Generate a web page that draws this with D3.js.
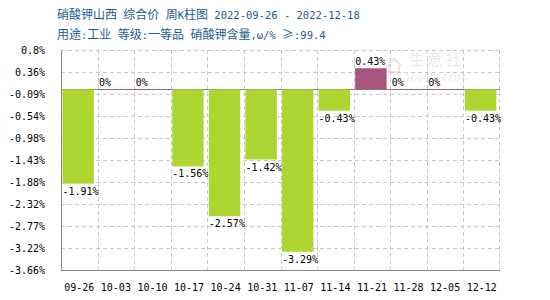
<!DOCTYPE html>
<html>
<head>
<meta charset="utf-8">
<script src="https://cdn.jsdelivr.net/npm/d3@7"></script>
<style>
  body { margin: 0; background: #fff; }
  svg { display: block; }
</style>
</head>
<body>
<div id="chart"></div>
<script>
// week labels and weekly change (%)
var weeks = ["09-26","10-03","10-10","10-17","10-24","10-31","11-07","11-14","11-21","11-28","12-05","12-12"];
var changes = [-1.91, 0, 0, -1.56, -2.57, -1.42, -3.29, -0.43, 0.43, 0, 0, -0.43];
var yTicks = [0.8, 0.36, -0.09, -0.54, -0.98, -1.43, -1.88, -2.32, -2.77, -3.22, -3.66];
var titleLines = ["硝酸钾山西 综合价 周K柱图 2022-09-26 - 2022-12-18",
                  "用途:工业 等级:一等品 硝酸钾含量,ω/% ≥:99.4"];

var margin = {top: 50, right: 50, bottom: 30, left: 61},
    width = 550 - margin.left - margin.right,
    height = 300 - margin.top - margin.bottom;

var svg = d3.select("#chart").append("svg")
    .attr("width", 550)
    .attr("height", 300);

// titles: CJK runs in a CJK font, latin runs in a narrow mono font
var cjk = /[\u3000-\u9fff\uff00-\uffef\u2265]/;
function runs(s) {
  var out = [], cur = "", curC = null;
  for (var ch of s) {
    var c = cjk.test(ch);
    if (curC !== null && c !== curC) { out.push({t: cur, c: curC}); cur = ""; }
    cur += ch; curC = c;
  }
  if (cur) out.push({t: cur, c: curC});
  return out;
}
titleLines.forEach(function(line, i) {
  var t = svg.append("text")
      .attr("x", 57)
      .attr("y", 19 + i * 20)
      .attr("fill", "#1d5b8f")
      .attr("xml:space", "preserve")
      .style("white-space", "pre");
  t.selectAll("tspan").data(runs(line)).enter().append("tspan")
      .style("font-family", function(d) { return d.c ? "'Noto Sans CJK SC', sans-serif" : "'DejaVu Sans Mono', monospace"; })
      .style("font-size", function(d) { return d.c ? "12px" : "10.5px"; })
      .text(function(d) { return d.t; });
});

var g = svg.append("g")
    .attr("transform", "translate(" + margin.left + "," + margin.top + ")");

var xGrid = d3.scaleBand().domain(weeks).range([0, width]);
var barOff = xGrid.bandwidth() * 0.04, barW = xGrid.bandwidth() * 0.86;
var y = d3.scaleLinear().domain([-3.66, 0.8]).range([height, 0]);

// watermark
var wm = g.append("g").attr("opacity", 0.9);
wm.append("path")
    .attr("d", "M326,16 L333,9 L340,16 M328,15 L328,22 L338,22 L338,15")
    .attr("fill", "none").attr("stroke", "#f4dede").attr("stroke-width", 2);
wm.append("text").attr("x", 374).attr("y", 15).attr("text-anchor", "middle")
    .attr("fill", "#f4e2e2").style("font-size", "15px").style("font-family", "'Noto Sans CJK SC'")
    .text("生 意 社");
wm.append("text").attr("x", 374).attr("y", 32).attr("text-anchor", "middle")
    .attr("fill", "#ececec").style("font-size", "10px").style("font-family", "'DejaVu Sans'")
    .text("100PPI.COM");

// horizontal grid
g.selectAll(".hgrid").data(yTicks).enter().append("line")
    .attr("x1", 0).attr("x2", width)
    .attr("y1", function(d) { return Math.round(y(d)) + 0.5; })
    .attr("y2", function(d) { return Math.round(y(d)) + 0.5; })
    .attr("stroke", "#c8c8c8").attr("stroke-dasharray", "4,3");

// vertical grid at band edges
g.selectAll(".vgrid").data(weeks.slice(1).concat(["end"])).enter().append("line")
    .attr("x1", function(d) { return d === "end" ? width - 0.5 : Math.round(xGrid(d)) + 0.5; })
    .attr("x2", function(d) { return d === "end" ? width - 0.5 : Math.round(xGrid(d)) + 0.5; })
    .attr("y1", 0).attr("y2", height)
    .attr("stroke", "#c8c8c8").attr("stroke-dasharray", "4,3");

// axes lines
g.append("line").attr("x1", 0.5).attr("x2", 0.5).attr("y1", 0).attr("y2", height)
    .attr("stroke", "#888");
g.append("line").attr("x1", 0).attr("x2", width).attr("y1", height + 0.5).attr("y2", height + 0.5)
    .attr("stroke", "#888");
g.append("line").attr("x1", 0).attr("x2", width)
    .attr("y1", Math.round(y(0)) + 0.5).attr("y2", Math.round(y(0)) + 0.5)
    .attr("stroke", "#888");

// bars
g.selectAll(".bar").data(changes).enter().append("rect")
    .attr("x", function(d, i) { return d === 0 ? xGrid(weeks[i]) : xGrid(weeks[i]) + barOff; })
    .attr("width", function(d) { return d === 0 ? xGrid.bandwidth() : barW; })
    .attr("y", function(d) { return d === 0 ? Math.round(y(0)) : y(Math.max(d, 0)); })
    .attr("height", function(d) { return d === 0 ? 1 : Math.abs(y(d) - y(0)); })
    .attr("fill", function(d) { return d >= 0 ? "#a8567f" : "#add633"; });

// value labels, left aligned at bar start
g.selectAll(".val").data(changes).enter().append("text")
    .attr("x", function(d, i) { return xGrid(weeks[i]) + barOff; })
    .attr("y", function(d) { return d < 0 ? y(d) + 11 : y(d) - 3; })
    .style("font-family", "'DejaVu Sans Mono', monospace")
    .style("font-size", "10px")
    .attr("fill", "#000")
    .text(function(d) { return d + "%"; });

// y tick labels
g.selectAll(".ylab").data(yTicks).enter().append("text")
    .attr("x", -16)
    .attr("y", function(d) { return y(d) + 4; })
    .attr("text-anchor", "end")
    .style("font-family", "'DejaVu Sans Mono', monospace")
    .style("font-size", "10px")
    .text(function(d) { return d + "%"; });

// x tick labels
g.selectAll(".xlab").data(weeks).enter().append("text")
    .attr("x", function(d) { return xGrid(d) + xGrid.bandwidth() / 2; })
    .attr("y", height + 21)
    .attr("text-anchor", "middle")
    .style("font-family", "'DejaVu Sans Mono', monospace")
    .style("font-size", "10px")
    .text(function(d) { return d; });
</script>
</body>
</html>
